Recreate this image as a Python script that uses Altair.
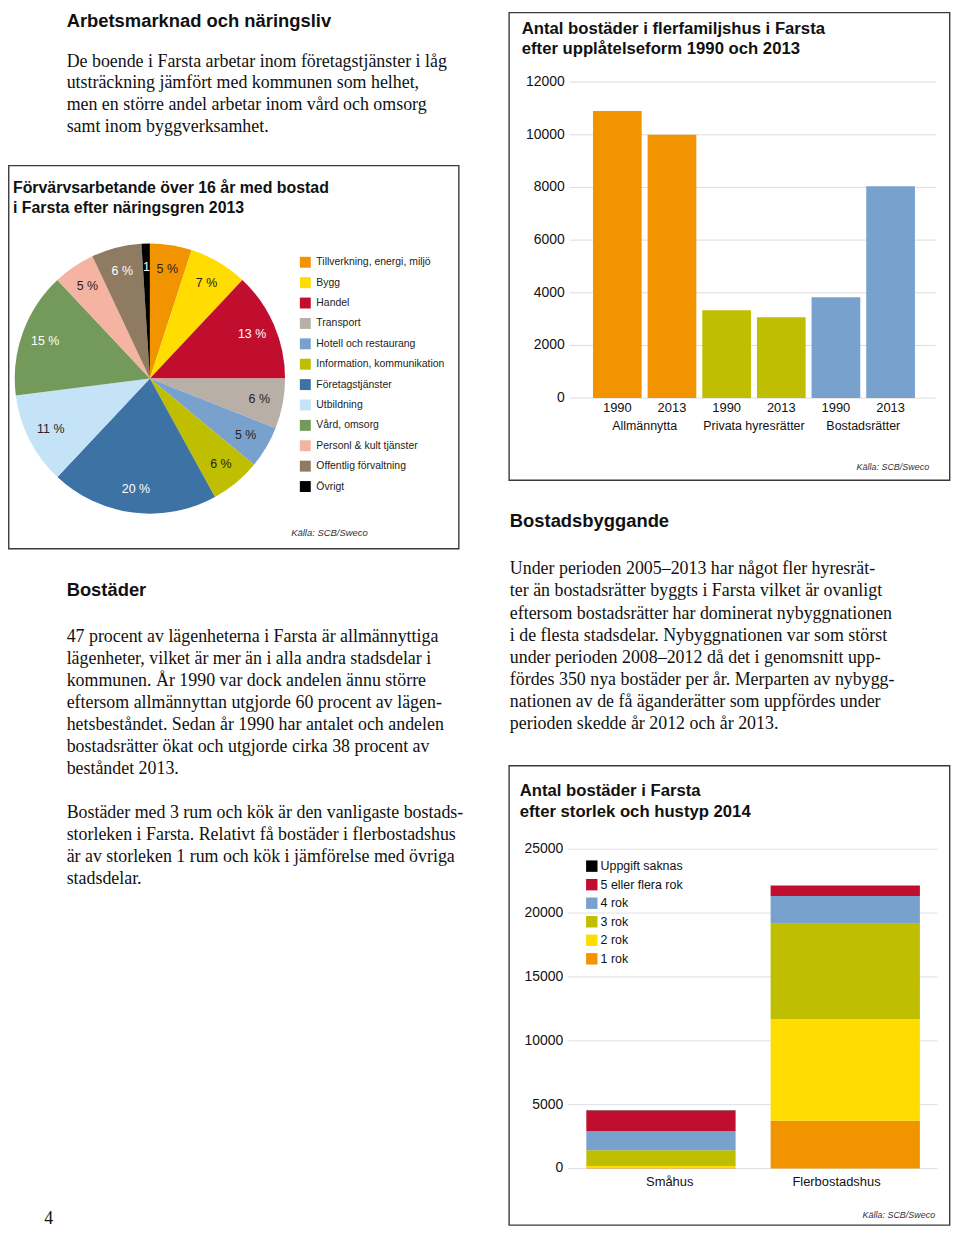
import altair as alt
import pandas as pd

SANS = "Liberation Sans"
SERIF = "Liberation Serif"

# ---------------- data ----------------
pie_categories = ["Tillverkning, energi, miljö", "Bygg", "Handel", "Transport",
                  "Hotell och restaurang", "Information, kommunikation", "Företagstjänster",
                  "Utbildning", "Vård, omsorg", "Personl & kult tjänster",
                  "Offentlig förvaltning", "Övrigt"]
pie_values = [5, 7, 13, 6, 5, 6, 20, 11, 15, 5, 6, 1]
pie_labels = ["5 %", "7 %", "13 %", "6 %", "5 %", "6 %", "20 %", "11 %", "15 %", "5 %", "6 %", "1"]
pie_colors = ["#F29400", "#FFDD00", "#C20E2E", "#B8AFA6", "#78A1CD", "#C0BE00",
              "#3D72A4", "#C5E3F6", "#739A5A", "#F5B3A2", "#8F7B62", "#000000"]
pie_white_labels = ["Handel", "Företagstjänster", "Vård, omsorg", "Offentlig förvaltning", "Övrigt"]

tenure_groups = ["Allmännytta", "Privata hyresrätter", "Bostadsrätter"]
tenure_years = ["1990", "2013"]
tenure_1990 = [10900, 3340, 3830]
tenure_2013 = [10000, 3070, 8050]
tenure_colors = ["#F29400", "#C0BE00", "#78A1CD"]
tenure_ticks = [0, 2000, 4000, 6000, 8000, 10000, 12000]

house_types = ["Småhus", "Flerbostadshus"]
room_sizes = ["1 rok", "2 rok", "3 rok", "4 rok", "5 eller flera rok", "Uppgift saknas"]
smahus_values = [40, 160, 1230, 1480, 1630, 20]
fler_values = [3740, 7940, 7490, 2160, 830, 0]
room_colors = ["#F29400", "#FFDD00", "#C0BE00", "#78A1CD", "#C20E2E", "#000000"]
size_ticks = [0, 5000, 10000, 15000, 20000, 25000]

text_intro = ["De boende i Farsta arbetar inom företagstjänster i låg",
              "utsträckning jämfört med kommunen som helhet,",
              "men en större andel arbetar inom vård och omsorg",
              "samt inom byggverksamhet."]
text_bostader_1 = ["47 procent av lägenheterna i Farsta är allmännyttiga",
                   "lägenheter, vilket är mer än i alla andra stadsdelar i",
                   "kommunen. År 1990 var dock andelen ännu större",
                   "eftersom allmännyttan utgjorde 60 procent av lägen-",
                   "hetsbeståndet. Sedan år 1990 har antalet och andelen",
                   "bostadsrätter ökat och utgjorde cirka 38 procent av",
                   "beståndet 2013."]
text_bostader_2 = ["Bostäder med 3 rum och kök är den vanligaste bostads-",
                   "storleken i Farsta. Relativt få bostäder i flerbostadshus",
                   "är av storleken 1 rum och kök i jämförelse med övriga",
                   "stadsdelar."]
text_bygg = ["Under perioden 2005–2013 har något fler hyresrät-",
             "ter än bostadsrätter byggts i Farsta vilket är ovanligt",
             "eftersom bostadsrätter har dominerat nybyggnationen",
             "i de flesta stadsdelar. Nybyggnationen var som störst",
             "under perioden 2008–2012 då det i genomsnitt upp-",
             "fördes 350 nya bostäder per år. Merparten av nybygg-",
             "nationen av de få äganderätter som uppfördes under",
             "perioden skedde år 2012 och år 2013."]

# ---------------- tables ----------------
pie_df = pd.DataFrame({"cat": pie_categories, "pct": pie_values,
                       "label": pie_labels, "idx": list(range(len(pie_categories)))})
bar_rows = []
for g, v90, v13 in zip(tenure_groups, tenure_1990, tenure_2013):
    bar_rows.append({"group": g, "year": tenure_years[0], "value": v90, "bid": g + "|" + tenure_years[0]})
    bar_rows.append({"group": g, "year": tenure_years[1], "value": v13, "bid": g + "|" + tenure_years[1]})
bar_df = pd.DataFrame(bar_rows)
bar_ids = list(bar_df["bid"])
grp_df = pd.DataFrame({"group": tenure_groups})
btick_df = pd.DataFrame({"v": tenure_ticks})
stack_rows = []
for h, vals in zip(house_types, [smahus_values, fler_values]):
    for i, (r, v) in enumerate(zip(room_sizes, vals)):
        stack_rows.append({"house": h, "room": r, "value": v, "rank": i})
stack_df = pd.DataFrame(stack_rows)
house_df = pd.DataFrame({"house": house_types})
room_df = pd.DataFrame({"room": room_sizes})
stick_df = pd.DataFrame({"v": size_ticks})
dummy = pd.DataFrame({"a": [0]})

# ---------------- helpers ----------------
def frame(x1, y1, x2, y2):
    return alt.Chart(dummy).mark_rect(fill="transparent", stroke="#3a3a3a", strokeWidth=1.4).encode(
        x=alt.value(x1), x2=alt.value(x2), y=alt.value(y1), y2=alt.value(y2))


def txt(lines, x, y, size, font=SANS, weight="normal", style="normal",
        align="left", lh=None, color="#111111"):
    return alt.Chart(dummy).mark_text(
        align=align, baseline="alphabetic", font=font, fontSize=size,
        fontWeight=weight, fontStyle=style, lineHeight=lh if lh else size * 1.2,
        color=color).encode(x=alt.value(x), y=alt.value(y), text=alt.value(lines))


layers = []

# ---------------- left column text ----------------
layers.append(txt("Arbetsmarknad och näringsliv", 59, 15, 18.5, weight="bold"))
layers.append(txt(text_intro, 59, 55, 18, font=SERIF, lh=22))
layers.append(txt("Bostäder", 59, 588, 18.5, weight="bold"))
layers.append(txt(text_bostader_1, 59, 633.7, 18, font=SERIF, lh=22.2))
layers.append(txt(text_bostader_2, 59, 811.3, 18, font=SERIF, lh=22.2))
layers.append(txt("4", 41, 1220, 18, font=SERIF, align="center"))

# ---------------- pie chart ----------------
layers.append(frame(0.75, 154.7, 453.7, 540.3))
layers.append(txt(["Förvärvsarbetande över 16 år med bostad", "i Farsta efter näringsgren 2013"],
                  5, 182.7, 16, weight="bold", lh=20))
pie_color_scale = alt.Scale(domain=pie_categories, range=pie_colors)
layers.append(alt.Chart(pie_df).mark_arc(outerRadius=136).encode(
    theta=alt.Theta("pct:Q", stack=True),
    color=alt.Color("cat:N", scale=pie_color_scale, legend=None),
    order=alt.Order("idx:Q"),
    x=alt.value(142.8), y=alt.value(369),
))
layers.append(alt.Chart(pie_df).mark_text(radius=112, font=SANS, fontSize=12.5,
                                          align="center", baseline="middle").encode(
    theta=alt.Theta("pct:Q", stack=True),
    order=alt.Order("idx:Q"),
    text="label:N",
    color=alt.condition(alt.FieldOneOfPredicate(field="cat", oneOf=pie_white_labels),
                        alt.value("white"), alt.value("#2a211c")),
    x=alt.value(142.8), y=alt.value(369),
))
pie_leg_y = alt.Scale(domain=pie_categories, range=[252, 477.7], padding=0)
layers.append(alt.Chart(pie_df).mark_square(size=121, opacity=1).encode(
    y=alt.Y("cat:N", scale=pie_leg_y, axis=None),
    x=alt.value(299.2),
    color=alt.Color("cat:N", scale=pie_color_scale, legend=None),
))
layers.append(alt.Chart(pie_df).mark_text(align="left", baseline="middle", font=SANS,
                                          fontSize=10.5, color="#222222").encode(
    y=alt.Y("cat:N", scale=pie_leg_y, axis=None),
    x=alt.value(310.3),
    text="cat:N",
))
layers.append(txt("Källa: SCB/Sweco", 285, 527, 9.5, style="italic", color="#333333"))

# ---------------- bar chart (tenure) ----------------
layers.append(frame(504.3, 0.75, 947.7, 471.3))
layers.append(txt(["Antal bostäder i flerfamiljshus i Farsta", "efter upplåtelseform 1990 och 2013"],
                  517, 22, 16.8, weight="bold", lh=20.7))
bx = alt.Scale(domain=tenure_groups, range=[585.7, 915.7], paddingInner=0, paddingOuter=0)
bxo = alt.Scale(domain=tenure_years, paddingInner=0.109, paddingOuter=0.0545)
bid_x = alt.Scale(domain=bar_ids, range=[585.7, 915.7], paddingInner=0.109, paddingOuter=0.0545)
by = alt.Scale(domain=[0, 12000], range=[388.7, 70.7], nice=False)
layers.append(alt.Chart(btick_df).mark_rule(color="#DCDCDC", strokeWidth=1).encode(
    y=alt.Y("v:Q", scale=by, axis=None), x=alt.value(565.3), x2=alt.value(933.7)))
layers.append(alt.Chart(btick_df).mark_text(align="right", baseline="middle", font=SANS,
                                            fontSize=14, color="#111111").encode(
    y=alt.Y("v:Q", scale=by, axis=None), x=alt.value(560.3), text=alt.Text("v:Q", format="d")))
layers.append(alt.Chart(bar_df).mark_bar().encode(
    x=alt.X("group:N", scale=bx, axis=None),
    xOffset=alt.XOffset("year:N", scale=bxo),
    y=alt.Y("value:Q", scale=by, axis=None),
    y2=alt.datum(0),
    color=alt.Color("group:N", scale=alt.Scale(domain=tenure_groups, range=tenure_colors), legend=None),
))
layers.append(alt.Chart(bar_df).mark_text(align="center", baseline="alphabetic", font=SANS,
                                          fontSize=13, color="#111111").encode(
    x=alt.X("bid:N", scale=bid_x, axis=None),
    y=alt.value(402.7),
    text="year:N",
))
layers.append(alt.Chart(grp_df).mark_text(align="center", baseline="alphabetic", font=SANS,
                                          fontSize=12.5, color="#111111").encode(
    x=alt.X("group:N", scale=bx, axis=None),
    y=alt.value(420.7),
    text="group:N",
))
layers.append(txt("Källa: SCB/Sweco", 927, 461.5, 9, style="italic", align="right", color="#333333"))

# ---------------- right column text ----------------
layers.append(txt("Bostadsbyggande", 505, 518.7, 18.5, weight="bold"))
layers.append(txt(text_bygg, 505, 566, 18, font=SERIF, lh=22.29))

# ---------------- stacked chart ----------------
layers.append(frame(504.3, 758.7, 947.7, 1221))
layers.append(txt(["Antal bostäder i Farsta", "efter storlek och hustyp 2014"],
                  515, 789.3, 16.8, weight="bold", lh=21))
sx = alt.Scale(domain=house_types, range=[582, 917.7], paddingInner=0.19, paddingOuter=0)
sy = alt.Scale(domain=[0, 25000], range=[1164, 842.7], nice=False)
room_color_scale = alt.Scale(domain=room_sizes, range=room_colors)
layers.append(alt.Chart(stick_df).mark_rule(color="#DDE0E6", strokeWidth=1).encode(
    y=alt.Y("v:Q", scale=sy, axis=None), x=alt.value(563.7), x2=alt.value(935.3)))
layers.append(alt.Chart(stick_df).mark_text(align="right", baseline="middle", font=SANS,
                                            fontSize=14, color="#111111").encode(
    y=alt.Y("v:Q", scale=sy, axis=None), x=alt.value(558.7), text=alt.Text("v:Q", format="d")))
layers.append(alt.Chart(stack_df).mark_bar().encode(
    x=alt.X("house:N", scale=sx, axis=None),
    y=alt.Y("value:Q", scale=sy, axis=None, stack="zero"),
    color=alt.Color("room:N", scale=room_color_scale, legend=None),
    order=alt.Order("rank:Q", sort="ascending"),
))
layers.append(alt.Chart(house_df).mark_text(align="center", baseline="alphabetic", font=SANS,
                                            fontSize=13, color="#111111").encode(
    x=alt.X("house:N", scale=sx, axis=None),
    y=alt.value(1181.3),
    text="house:N",
))
leg_y = alt.Scale(domain=list(reversed(room_sizes)), range=[859.7, 953], padding=0)
layers.append(alt.Chart(room_df).mark_square(size=132, opacity=1).encode(
    y=alt.Y("room:N", scale=leg_y, axis=None),
    x=alt.value(587.5),
    color=alt.Color("room:N", scale=room_color_scale, legend=None),
))
layers.append(alt.Chart(room_df).mark_text(align="left", baseline="middle", font=SANS,
                                           fontSize=12.5, color="#111111").encode(
    y=alt.Y("room:N", scale=leg_y, axis=None),
    x=alt.value(596.3),
    text="room:N",
))
layers.append(txt("Källa: SCB/Sweco", 933, 1214, 9, style="italic", align="right", color="#333333"))

chart = alt.layer(*layers).resolve_scale(
    x="independent", y="independent", color="independent",
    theta="independent", xOffset="independent",
).properties(
    width=950, height=1222,
    autosize=alt.AutoSizeParams(type="none"),
    padding=0,
    background="white",
).configure_view(strokeWidth=0)

chart.save("out.html", embed_options={"renderer": "svg", "actions": False})
